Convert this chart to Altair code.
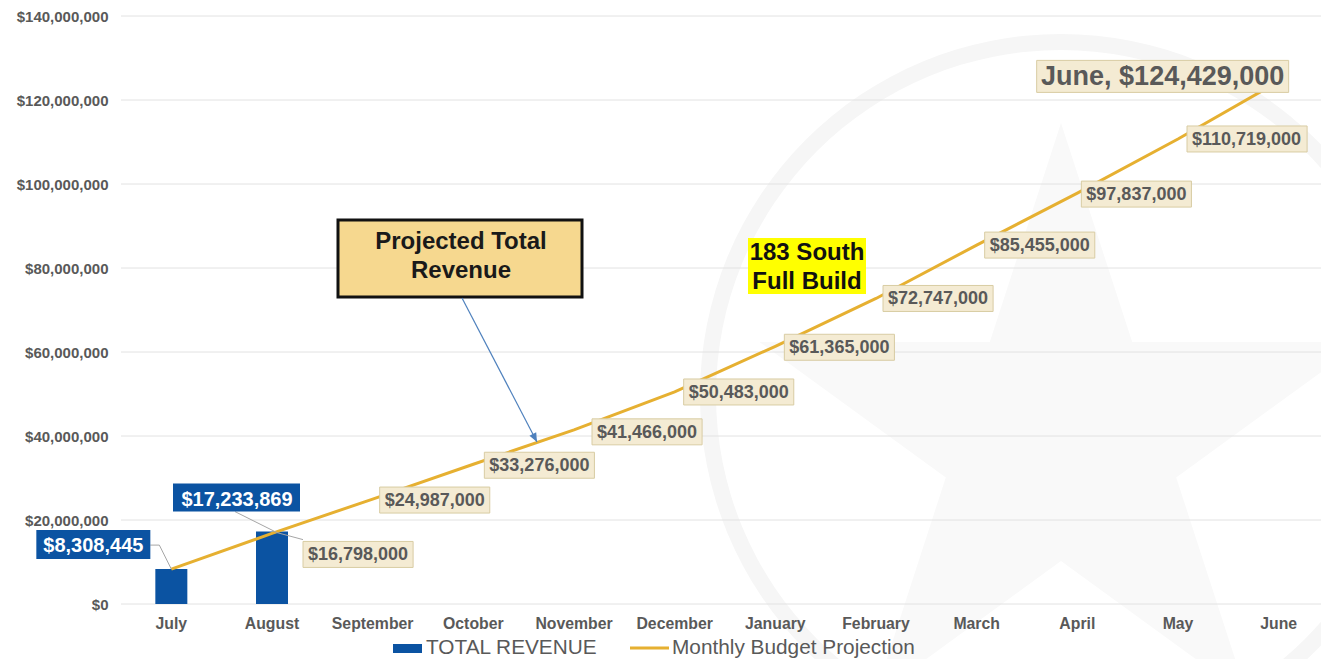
import math
import altair as alt
import pandas as pd

# ---------------- data ----------------
months = ["July", "August", "September", "October", "November", "December",
          "January", "February", "March", "April", "May", "June"]
revenue_months = ["July", "August"]
revenue_values = [8308445, 17233869]
projection_values = [8308445, 16798000, 24987000, 33276000, 41466000, 50483000,
                     61365000, 72747000, 85455000, 97837000, 110719000, 124429000]
y_ticks = [0, 20000000, 40000000, 60000000, 80000000, 100000000, 120000000, 140000000]
legend_labels = ["TOTAL REVENUE", "Monthly Budget Projection"]
callout_lines = ["Projected Total", "Revenue"]
highlight_lines = ["183 South", "Full Build"]
final_label = "June, $124,429,000"

# ---------------- style ----------------
FONT = "Liberation Sans"
GRAY = "#595959"
BLUE = "#0b53a2"
GOLD = "#e6b031"
BEIGE = "#f4ebd3"
BEIGE_EDGE = "#d8cca3"
LEADER = "#a6a6a6"

LEFT, TOP = 121, 16          # page position of plot origin
W, H = 1200, 588
X_RANGE = 1208               # band range may run past the drawable width


def px(v):
    return v - LEFT


def py(v):
    return v - TOP


def text_w(s, fs):
    w = 0
    for ch in s:
        if ch.isdigit() or ch == "$":
            w += 0.556
        elif ch in ", ":
            w += 0.278
        else:
            w += 0.6
    return w * fs


def rect_path(x0, y0, x1, y1):
    return f"M{x0:.1f},{y0:.1f}H{x1:.1f}V{y1:.1f}H{x0:.1f}Z"


LBL_FS = 18
BOX_H = 26
label_offsets = {
    "August": (31, 21), "September": (7, 1), "October": (11, 1),
    "November": (18, 2), "December": (9, 0), "January": (9, 1),
    "February": (7, 0), "March": (8, 0), "April": (4, 1), "May": (9, 0),
}

df_proj = pd.DataFrame({"month": months, "value": projection_values})
df_proj["label"] = [f"${v:,.0f}" for v in projection_values]
df_proj.loc[df_proj["month"] == "June", "label"] = final_label

boxes = []
for m, lab in zip(df_proj["month"], df_proj["label"]):
    if m in label_offsets:
        dx, dy = label_offsets[m]
        w = text_w(lab, LBL_FS) + 10
        boxes.append(rect_path(dx, dy - BOX_H / 2, dx + w, dy + BOX_H / 2))
    elif m == "June":
        boxes.append(rect_path(-242, -21, 10, 11))
    else:
        boxes.append("M0,0")
df_proj["box"] = boxes
df_boxes = df_proj[df_proj["month"] != "July"]

df_rev = pd.DataFrame({"month": revenue_months, "value": revenue_values})
df_rev["label"] = [f"${v:,.0f}" for v in revenue_values]
blue_geom = {"July": (-135, -39, -21, -10), "August": (-99, -48, 28, -20)}
df_rev["box"] = [rect_path(*blue_geom[m]) for m in revenue_months]
leader_paths = {"July": "M-21,-24L-12,-24L0,0", "August": "M-37,-20L5,1L31,8"}
df_rev["leader"] = [leader_paths[m] for m in revenue_months]

df_grid = pd.DataFrame({"value": y_ticks})

x_enc = alt.X("month:N", sort=months,
              scale=alt.Scale(domain=months, range=[0, X_RANGE], paddingInner=0,
                              paddingOuter=0),
              axis=alt.Axis(title=None, labelAngle=0, domain=False, ticks=False,
                            grid=False, labelPadding=12, labelFontSize=15.8,
                            labelFontWeight="bold", labelColor=GRAY, labelFont=FONT,
                            zindex=1))
y_enc = alt.Y("value:Q", scale=alt.Scale(domain=[0, 140000000], nice=False, zero=True),
              axis=alt.Axis(title=None, values=y_ticks, format="$,.0f", domain=False,
                            ticks=False, grid=False, labelPadding=13,
                            labelFontSize=15, labelFontWeight="bold", labelColor=GRAY,
                            labelFont=FONT, zindex=1))

one = pd.DataFrame({"k": [0]})

# faint watermark (ring + star) behind everything
WX, WY = px(1061), py(395)
ring = alt.Chart(one).mark_arc(radius=361, radius2=345, theta=0, theta2=2 * math.pi,
                               color="#f6f6f6").encode(x=alt.value(WX), y=alt.value(WY))
SCX, SCY, SR = px(1061), py(440), 317
pts = []
for i in range(10):
    r = SR if i % 2 == 0 else SR * 0.382
    a = math.radians(-90 + 36 * i)
    pts.append((r * math.cos(a), r * math.sin(a)))
star_path = "M" + "L".join(f"{x:.1f},{y:.1f}" for x, y in pts) + "Z"
star = alt.Chart(one).mark_point(filled=True, fill="#f9f9f9", opacity=1,
                                 shape=star_path).encode(
    x=alt.value(SCX), y=alt.value(SCY), size=alt.value(4))

grid = alt.Chart(df_grid).mark_rule(color="#e2e2e2", strokeWidth=1).encode(y=y_enc)

bars = alt.Chart(df_rev).mark_bar(size=32, color=BLUE).encode(x=x_enc, y=y_enc)
line = alt.Chart(df_proj).mark_line(color=GOLD, strokeWidth=3).encode(x=x_enc, y=y_enc)

leaders_blue = alt.Chart(df_rev).mark_point(filled=False, stroke=LEADER, strokeWidth=1,
                                            opacity=1).encode(
    x=x_enc, y=y_enc, shape=alt.Shape("leader:N", scale=None, legend=None),
    size=alt.value(4))

beige_boxes = alt.Chart(df_boxes).mark_point(filled=True, fill=BEIGE, stroke=BEIGE_EDGE,
                                             strokeWidth=1, opacity=1).encode(
    x=x_enc, y=y_enc, shape=alt.Shape("box:N", scale=None, legend=None),
    size=alt.value(4))

blue_boxes = alt.Chart(df_rev).mark_point(filled=True, fill=BLUE, opacity=1).encode(
    x=x_enc, y=y_enc, shape=alt.Shape("box:N", scale=None, legend=None),
    size=alt.value(4))

layers = [ring, star, grid, bars, line, leaders_blue, beige_boxes, blue_boxes]

for m, (dx, dy) in label_offsets.items():
    layers.append(
        alt.Chart(df_proj).transform_filter(alt.datum.month == m).mark_text(
            align="left", baseline="middle", dx=dx + 5, dy=dy + 1, font=FONT,
            fontSize=LBL_FS, fontWeight="bold", color=GRAY).encode(
            x=x_enc, y=y_enc, text="label:N"))
layers.append(
    alt.Chart(df_proj).transform_filter(alt.datum.month == "June").mark_text(
        align="center", baseline="middle", dx=-116, dy=-4, font=FONT, fontSize=27,
        fontWeight="bold", color=GRAY).encode(x=x_enc, y=y_enc, text="label:N"))

blue_text_pos = {"July": (-78, -24), "August": (-35, -33)}
for m, (dx, dy) in blue_text_pos.items():
    layers.append(
        alt.Chart(df_rev).transform_filter(alt.datum.month == m).mark_text(
            align="center", baseline="middle", dx=dx, dy=dy + 1, font=FONT, fontSize=20,
            fontWeight="bold", color="white").encode(x=x_enc, y=y_enc, text="label:N"))

# ---------------- annotations ----------------
callout_box = alt.Chart(one).mark_rect(fill="#f6d88f", stroke="#111111", strokeWidth=3).encode(
    x=alt.value(px(338)), x2=alt.value(px(582)), y=alt.value(py(220)), y2=alt.value(py(297)))
callout_txt = [
    alt.Chart(one).mark_text(align="center", baseline="middle", font=FONT, fontSize=24,
                             fontWeight="bold", color="#1a1a1a", text=t).encode(
        x=alt.value(px(461)), y=alt.value(py(yy)))
    for t, yy in zip(callout_lines, [242, 271])
]
ax0, ay0, ax1, ay1 = px(462), py(298), px(537), py(442)
arrow = alt.Chart(one).mark_rule(color="#4f81bd", strokeWidth=1.2).encode(
    x=alt.value(ax0), y=alt.value(ay0), x2=alt.value(ax1), y2=alt.value(ay1))
vx, vy = ax1 - ax0, ay1 - ay0
ln = (vx ** 2 + vy ** 2) ** 0.5
ux, uy = vx / ln, vy / ln
bx, by = -9 * ux, -9 * uy
nx, ny = -uy * 3.8, ux * 3.8
head_path = f"M0,0L{bx + nx:.2f},{by + ny:.2f}L{bx - nx:.2f},{by - ny:.2f}Z"
arrow_head = alt.Chart(one).mark_point(filled=True, fill="#4f81bd", opacity=1,
                                       shape=head_path).encode(
    x=alt.value(ax1), y=alt.value(ay1), size=alt.value(4))

hl_rects = [
    alt.Chart(one).mark_rect(fill="#ffff00").encode(
        x=alt.value(px(748)), x2=alt.value(px(866)), y=alt.value(py(a)), y2=alt.value(py(b)))
    for a, b in [(238, 266), (266, 294)]
]
hl_txt = [
    alt.Chart(one).mark_text(align="center", baseline="middle", font=FONT, fontSize=24,
                             fontWeight="bold", color="#111111", text=t).encode(
        x=alt.value(px(807)), y=alt.value(py(yy)))
    for t, yy in zip(highlight_lines, [253, 282])
]

LEG_Y = 648
leg_rect = alt.Chart(one).mark_rect(fill=BLUE).encode(
    x=alt.value(px(393)), x2=alt.value(px(422)), y=alt.value(py(LEG_Y - 4)),
    y2=alt.value(py(LEG_Y + 5)))
leg_t1 = alt.Chart(one).mark_text(align="left", baseline="middle", font=FONT, fontSize=20.8,
                                  color=GRAY, text=legend_labels[0]).encode(
    x=alt.value(px(426)), y=alt.value(py(LEG_Y)))
leg_line = alt.Chart(one).mark_rule(color=GOLD, strokeWidth=3).encode(
    x=alt.value(px(630)), x2=alt.value(px(669)), y=alt.value(py(LEG_Y)))
leg_t2 = alt.Chart(one).mark_text(align="left", baseline="middle", font=FONT, fontSize=20.8,
                                  color=GRAY, text=legend_labels[1]).encode(
    x=alt.value(px(672)), y=alt.value(py(LEG_Y)))

layers += [callout_box] + callout_txt + [arrow, arrow_head] + hl_rects + hl_txt
layers += [leg_rect, leg_t1, leg_line, leg_t2]

chart = alt.layer(*layers).properties(
    width=W, height=H,
    autosize=alt.AutoSizeParams(type="none"),
    padding={"left": LEFT - 8, "top": TOP - 8, "right": 0, "bottom": 55},
    background="white",
).configure_view(stroke=None)

chart.save("out.html", embed_options={"renderer": "svg", "actions": False})
